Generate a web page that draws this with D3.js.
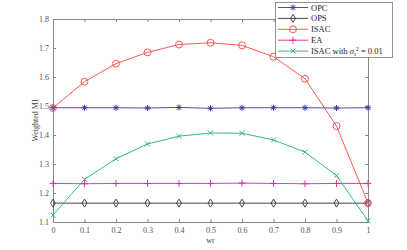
<!DOCTYPE html>
<html>
<head>
<meta charset="utf-8">
<script src="https://cdn.jsdelivr.net/npm/d3@7"></script>
<style>
body { margin: 0; background: #fff; }
svg text { font-family: "Liberation Serif", "DejaVu Serif", serif; }
</style>
</head>
<body>
<svg id="chart" width="407" height="250"></svg>
<script>
var wr = [0, 0.1, 0.2, 0.3, 0.4, 0.5, 0.6, 0.7, 0.8, 0.9, 1];
var opc = [1.494, 1.494, 1.494, 1.493, 1.495, 1.492, 1.494, 1.494, 1.494, 1.493, 1.494];
var ops = [1.165, 1.165, 1.165, 1.165, 1.165, 1.165, 1.165, 1.165, 1.165, 1.165, 1.165];
var isac = [1.493, 1.584, 1.646, 1.685, 1.712, 1.718, 1.709, 1.670, 1.594, 1.431, 1.165];
var ea = [1.233, 1.232, 1.233, 1.233, 1.233, 1.233, 1.234, 1.233, 1.232, 1.233, 1.233];
var isacNoise = [1.124, 1.247, 1.318, 1.369, 1.396, 1.407, 1.406, 1.383, 1.341, 1.260, 1.104];
var xTicks = [0, 0.1, 0.2, 0.3, 0.4, 0.5, 0.6, 0.7, 0.8, 0.9, 1];
var yTicks = [1.1, 1.2, 1.3, 1.4, 1.5, 1.6, 1.7, 1.8];

var series = [
  {name: "OPC", values: opc, color: "#3a3aa6", marker: "star"},
  {name: "OPS", values: ops, color: "#333333", marker: "diamond"},
  {name: "ISAC", values: isac, color: "#ff4545", marker: "circle"},
  {name: "EA", values: ea, color: "#e0259c", marker: "plus"},
  {name: "ISAC with", values: isacNoise, color: "#25b070", marker: "cross"}
];

var svg = d3.select("#chart");
var mLeft = 53, mRight = 368, mTop = 19, mBottom = 222;
var axisColor = "#888888";

var x = d3.scaleLinear().domain([0, 1]).range([mLeft, mRight]);
var y = d3.scaleLinear().domain([1.1, 1.8]).range([mBottom, mTop]);

function drawAxis(g) {
  g.selectAll("path").attr("stroke", axisColor);
  g.selectAll("line").attr("stroke", axisColor);
  g.selectAll("text").attr("fill", "#555").style("font-size", "8px");
}

svg.append("g").attr("transform", "translate(0," + mBottom + ")")
  .call(d3.axisBottom(x).tickValues(xTicks).tickSize(-3).tickPadding(5).tickFormat(d3.format("")))
  .call(drawAxis);
svg.append("g").attr("transform", "translate(0," + mTop + ")")
  .call(d3.axisTop(x).tickValues(xTicks).tickSize(-3).tickFormat(""))
  .call(drawAxis);
svg.append("g").attr("transform", "translate(" + mLeft + ",0)")
  .call(d3.axisLeft(y).tickValues(yTicks).tickSize(-3).tickPadding(4).tickFormat(d3.format(".1f")))
  .call(drawAxis);
svg.append("g").attr("transform", "translate(" + mRight + ",0)")
  .call(d3.axisRight(y).tickValues(yTicks).tickSize(-3).tickFormat(""))
  .call(drawAxis);

svg.append("text").attr("x", (mLeft + mRight) / 2).attr("y", 243)
  .attr("text-anchor", "middle").attr("fill", "#444").style("font-size", "8px").text("wr");
svg.append("text").attr("transform", "translate(38," + ((mTop + mBottom) / 2) + ") rotate(-90)")
  .attr("text-anchor", "middle").attr("fill", "#444").style("font-size", "8px").text("Weighted MI");

function drawMarker(g, type, cx, cy, color) {
  var r = 3.5;
  if (type === "circle") {
    g.append("circle").attr("cx", cx).attr("cy", cy).attr("r", r)
      .attr("fill", "none").attr("stroke", color).attr("stroke-width", 0.9);
  } else if (type === "diamond") {
    g.append("path").attr("d", "M" + cx + "," + (cy - r - 0.5) + "L" + (cx + r - 1) + "," + cy +
      "L" + cx + "," + (cy + r + 0.5) + "L" + (cx - r + 1) + "," + cy + "Z")
      .attr("fill", "none").attr("stroke", color).attr("stroke-width", 0.9);
  } else if (type === "plus") {
    g.append("path").attr("d", "M" + (cx - r) + "," + cy + "H" + (cx + r) + "M" + cx + "," + (cy - r) + "V" + (cy + r))
      .attr("stroke", color).attr("stroke-width", 0.9);
  } else if (type === "cross") {
    var c = 2.5;
    g.append("path").attr("d", "M" + (cx - c) + "," + (cy - c) + "L" + (cx + c) + "," + (cy + c) +
      "M" + (cx - c) + "," + (cy + c) + "L" + (cx + c) + "," + (cy - c))
      .attr("stroke", color).attr("stroke-width", 0.9);
  } else if (type === "star") {
    var s = 3, d = 2.2;
    g.append("path").attr("d", "M" + (cx - s) + "," + cy + "H" + (cx + s) + "M" + cx + "," + (cy - s) + "V" + (cy + s) +
      "M" + (cx - d) + "," + (cy - d) + "L" + (cx + d) + "," + (cy + d) +
      "M" + (cx - d) + "," + (cy + d) + "L" + (cx + d) + "," + (cy - d))
      .attr("stroke", color).attr("stroke-width", 1);
  }
}

var line = d3.line().x(function(d, i) { return x(wr[i]); }).y(function(d) { return y(d); });
var plot = svg.append("g");
series.forEach(function(s) {
  plot.append("path").datum(s.values).attr("d", line)
    .attr("fill", "none").attr("stroke", s.color).attr("stroke-width", 0.9);
  s.values.forEach(function(v, i) {
    drawMarker(plot, s.marker, x(wr[i]), y(v), s.color);
  });
});

// legend
var lg = svg.append("g");
lg.append("rect").attr("x", 275.5).attr("y", 2.5).attr("width", 117).attr("height", 55)
  .attr("fill", "#fff").attr("stroke", "#777").attr("stroke-width", 0.8);
series.forEach(function(s, i) {
  var ly = 7.5 + i * 10.9;
  lg.append("line").attr("x1", 278).attr("x2", 308).attr("y1", ly).attr("y2", ly)
    .attr("stroke", s.color).attr("stroke-width", 0.9);
  drawMarker(lg, s.marker, 293, ly, s.color);
  var t = lg.append("text").attr("x", 311).attr("y", ly + 3).attr("fill", "#222").style("font-size", "8.5px").text(s.name);
  if (i === 4) {
    t.append("tspan").text(" ");
    t.append("tspan").style("font-style", "italic").text("σ");
    t.append("tspan").attr("dy", 1.5).style("font-size", "5.5px").style("font-style", "italic").text("s");
    t.append("tspan").attr("dy", -5).style("font-size", "5.5px").text("2");
    t.append("tspan").attr("dy", 3.5).text(" = 0.01");
  }
});
</script>
</body>
</html>
